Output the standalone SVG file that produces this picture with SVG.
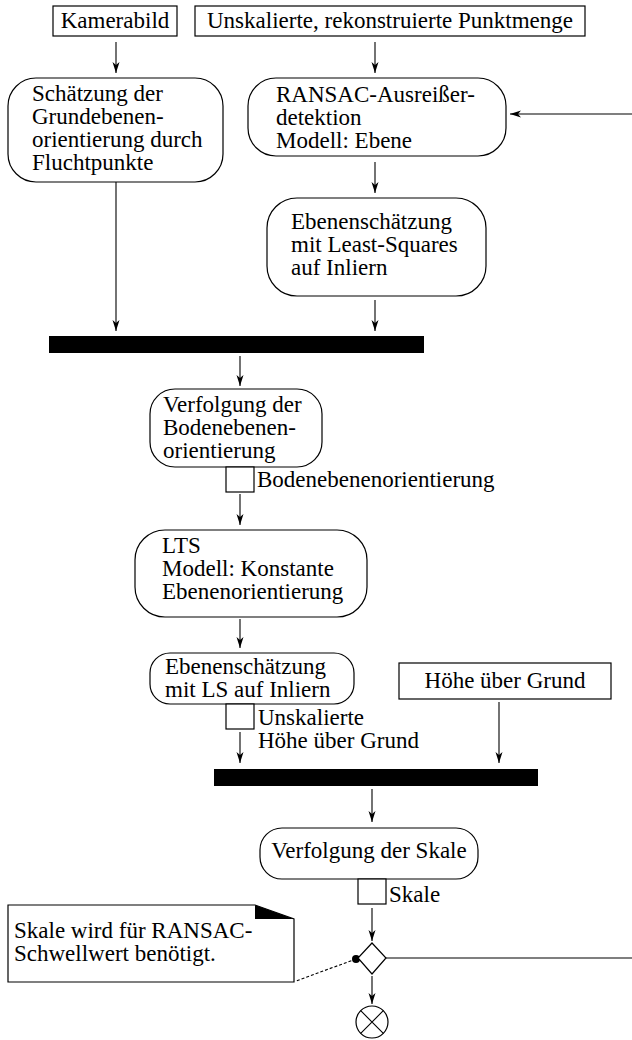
<svg xmlns="http://www.w3.org/2000/svg" width="632" height="1040" viewBox="0 0 632 1040">
  <style>
    text { font-family: "Liberation Serif", "Times New Roman", serif; font-size: 23px; fill: #000; }
    .box { fill: #fff; stroke: #000; stroke-width: 1.2; }
    .bar { fill: #000; }
    .edge { fill: none; stroke: #000; stroke-width: 1.1; }
    .arrow { marker-end: url(#arr); }
    .mid { text-anchor: middle; }
  </style>
  <defs>
    <marker id="arr" markerWidth="12" markerHeight="8" refX="11" refY="4" orient="auto" markerUnits="userSpaceOnUse">
      <path d="M0,0.5 L11,4 L0,7.5 L3,4 Z" fill="#000"/>
    </marker>
  </defs>

  <rect width="632" height="1040" fill="#fff"/>

  <!-- control flow and object flow edges -->
  <g id="connectors">
    <line class="edge arrow" x1="116" y1="42" x2="116" y2="73"/>
    <line class="edge arrow" x1="375" y1="42" x2="375" y2="73"/>
    <line class="edge arrow" x1="632" y1="114" x2="510" y2="114"/>
    <line class="edge arrow" x1="375" y1="162" x2="375" y2="193"/>
    <line class="edge" x1="116" y1="182" x2="116" y2="300"/>
    <line class="edge arrow" x1="116" y1="300" x2="116" y2="331"/>
    <line class="edge arrow" x1="375" y1="300" x2="375" y2="331"/>
    <line class="edge arrow" x1="240" y1="356" x2="240" y2="386"/>
    <line class="edge arrow" x1="240" y1="494" x2="240" y2="525"/>
    <line class="edge arrow" x1="240" y1="619" x2="240" y2="648"/>
    <line class="edge arrow" x1="240" y1="732" x2="240" y2="763"/>
    <line class="edge arrow" x1="499" y1="702" x2="499" y2="763"/>
    <line class="edge arrow" x1="372" y1="789" x2="372" y2="822"/>
    <line class="edge arrow" x1="372" y1="908" x2="372" y2="941"/>
    <line class="edge" x1="386" y1="958" x2="632" y2="958"/>
    <line class="edge arrow" x1="372" y1="976" x2="372" y2="1004"/>
    <line class="edge" x1="356" y1="959" x2="296" y2="981" stroke-dasharray="3,2"/>
    <circle cx="356" cy="959" r="4" fill="#000"/>
  </g>

  <g id="kamerabild">
    <rect class="box" x="53" y="6" width="124" height="30"/>
    <text class="mid" x="115" y="28">Kamerabild</text>
  </g>

  <g id="punktmenge">
    <rect class="box" x="195" y="6" width="390" height="30"/>
    <text class="mid" x="390" y="28">Unskalierte, rekonstruierte Punktmenge</text>
  </g>

  <g id="fluchtpunkte">
    <rect class="box" x="8" y="78" width="215" height="104" rx="28" ry="28"/>
    <text x="32" y="101">Schätzung der</text>
    <text x="32" y="124">Grundebenen-</text>
    <text x="32" y="147">orientierung durch</text>
    <text x="32" y="170">Fluchtpunkte</text>
  </g>

  <g id="ransac">
    <rect class="box" x="248" y="78" width="258" height="78" rx="28" ry="28"/>
    <text x="276" y="102">RANSAC-Ausreißer-</text>
    <text x="276" y="125">detektion</text>
    <text x="276" y="148">Modell: Ebene</text>
  </g>

  <g id="least-squares">
    <rect class="box" x="267" y="198" width="219" height="98" rx="30" ry="30"/>
    <text x="291" y="229">Ebenenschätzung</text>
    <text x="291" y="252">mit Least-Squares</text>
    <text x="291" y="275">auf Inliern</text>
  </g>

  <g id="join-1">
    <rect class="bar" x="49" y="336" width="375" height="17"/>
  </g>

  <g id="tracking-orientation">
    <rect class="box" x="150" y="389" width="172" height="78" rx="25" ry="25"/>
    <text x="163" y="412">Verfolgung der</text>
    <text x="163" y="435">Bodenebenen-</text>
    <text x="163" y="458">orientierung</text>
  </g>

  <g id="pin-orientation">
    <rect class="box" x="226" y="467" width="28" height="25"/>
    <text x="257" y="487">Bodenebenenorientierung</text>
  </g>

  <g id="lts">
    <rect class="box" x="135" y="530" width="232" height="87" rx="30" ry="30"/>
    <text x="162" y="553">LTS</text>
    <text x="162" y="576">Modell: Konstante</text>
    <text x="162" y="599">Ebenenorientierung</text>
  </g>

  <g id="ls-inlier">
    <rect class="box" x="150" y="653" width="204" height="51" rx="20" ry="20"/>
    <text x="165" y="674">Ebenenschätzung</text>
    <text x="165" y="697">mit LS auf Inliern</text>
  </g>

  <g id="hoehe">
    <rect class="box" x="399" y="663" width="212" height="36"/>
    <text class="mid" x="505" y="688">Höhe über Grund</text>
  </g>

  <g id="pin-height">
    <rect class="box" x="226" y="704" width="28" height="25"/>
    <text x="258" y="725">Unskalierte</text>
    <text x="258" y="748">Höhe über Grund</text>
  </g>

  <g id="join-2">
    <rect class="bar" x="214" y="769" width="324" height="17"/>
  </g>

  <g id="tracking-scale">
    <rect class="box" x="260" y="828" width="218" height="51" rx="22" ry="22"/>
    <text class="mid" x="369" y="858">Verfolgung der Skale</text>
  </g>

  <g id="pin-scale">
    <rect class="box" x="358" y="879" width="28" height="25"/>
    <text x="389" y="902">Skale</text>
  </g>

  <g id="decision">
    <polygon class="box" points="372,943 386,958 372,974 358,958"/>
  </g>

  <g id="note">
    <path class="box" d="M8,905 H255 L294,919 V982 H8 Z"/>
    <polygon points="255,905 294,919 255,919" fill="#000"/>
    <text x="14" y="938">Skale wird für RANSAC-</text>
    <text x="14" y="961">Schwellwert benötigt.</text>
  </g>

  <g id="flow-final">
    <circle class="box" cx="372" cy="1022" r="16"/>
    <path class="edge" d="M360.7,1010.7 L383.3,1033.3 M383.3,1010.7 L360.7,1033.3"/>
  </g>
</svg>
